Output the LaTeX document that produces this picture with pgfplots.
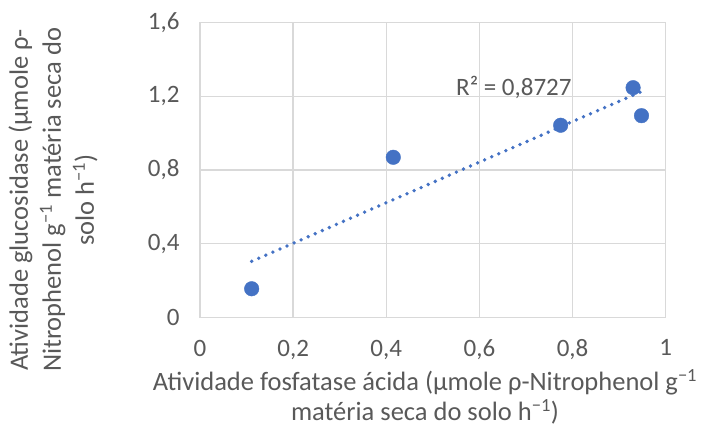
\documentclass[border=0pt]{standalone}
\usepackage{pgfplots}
\pgfplotsset{compat=1.18}
\usepackage{fontspec}
\setmainfont{Carlito}
\definecolor{txt}{HTML}{595959}
\definecolor{grd}{HTML}{D9D9D9}
\definecolor{blu}{HTML}{4472C4}
\newcommand{\sm}{\textsuperscript{−1}}
\begin{document}
\begin{tikzpicture}
\path[use as bounding box] (0,0) rectangle (701pt,436pt);
\begin{axis}[
  at={(200pt,118.7pt)}, anchor=south west,
  width=465.7pt, height=294.6pt, scale only axis,
  xmin=0, xmax=1, ymin=0, ymax=1.6,
  xtick={0,0.2,0.4,0.6,0.8,1},
  ytick={0,0.4,0.8,1.2,1.6},
  grid=major, major grid style={grd, line width=1.4pt},
  axis line style={grd, line width=1.4pt},
  major tick length=0pt,
  tick label style={font=\fontsize{25pt}{28pt}\selectfont, text=txt},
  /pgf/number format/assume math mode=true,
  /pgf/number format/use comma,
  xticklabel style={yshift=-19pt},
  yticklabel style={xshift=-17pt},
  yticklabel={\pgfmathprintnumber[fixed,precision=1,use comma]{\tick}},
  xticklabel={\pgfmathprintnumber[fixed,precision=1,use comma]{\tick}},
  clip=false,
]
\addplot[blu, line width=3.8pt, line cap=round, dash pattern=on 0pt off 7.7pt] coordinates {(0.111,0.304) (0.948,1.226)};
\addplot[only marks, mark=*, mark size=7.3pt, mark options={fill=blu, draw=blu}] coordinates {
(0.111,0.155) (0.415,0.869) (0.7745,1.043) (0.930,1.247) (0.948,1.095)};
\node[text=txt, font=\fontsize{25pt}{28pt}\selectfont] at (axis cs:0.674,1.251) {R² = 0,8727};
\end{axis}
\node[text=txt, align=center, font=\fontsize{26.5pt}{30pt}\selectfont] at (425pt,39pt) {Atividade fosfatase ácida (µmole ρ-Nitrophenol g\sm\\matéria seca do solo h\sm)};
\node[text=txt, align=center, rotate=90, font=\fontsize{26.5pt}{33pt}\selectfont] at (53pt,236pt) {Atividade glucosidase (µmole ρ-\\Nitrophenol g\sm\ matéria seca do\\solo h\sm)};
\end{tikzpicture}
\end{document}
